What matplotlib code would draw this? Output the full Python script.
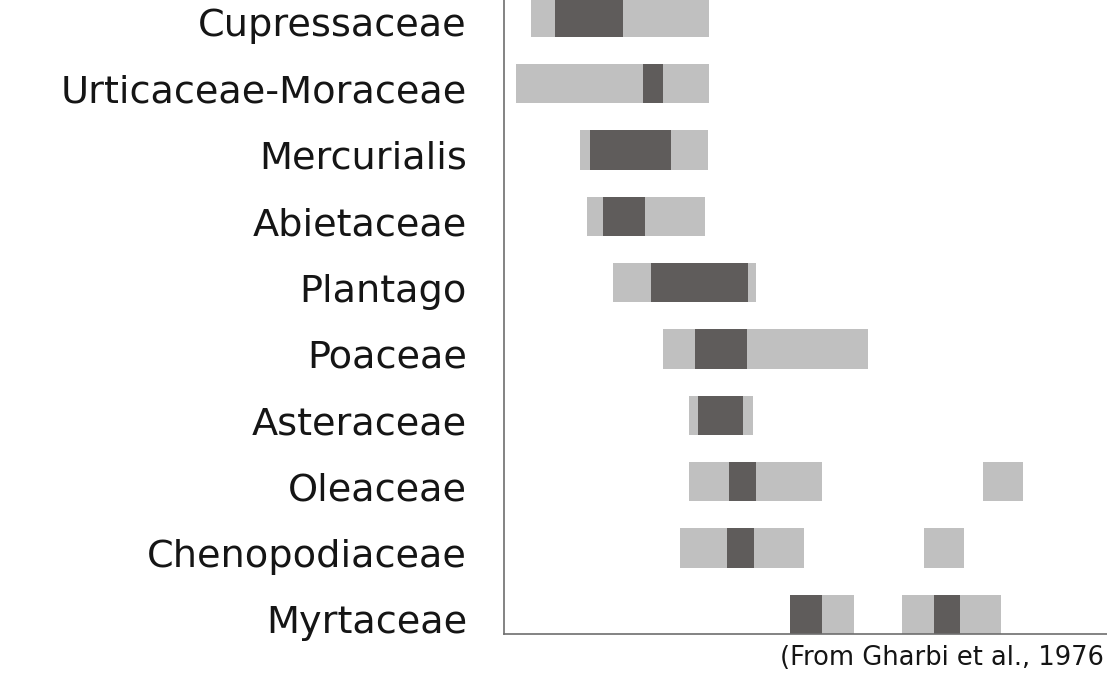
import numpy as np
import matplotlib
matplotlib.use("Agg")
import matplotlib.pyplot as plt
from matplotlib.transforms import ScaledTranslation


# --- Pollen calendar data (x in months from start of year) ---
taxa = ["Cupressaceae", "Urticaceae-Moraceae", "Mercurialis", "Abietaceae",
        "Plantago", "Poaceae", "Asteraceae", "Oleaceae", "Chenopodiaceae",
        "Myrtaceae"]

# light grey = pollen present, dark grey = main pollen season
# each entry: list of (start, end) per taxon
present = [
    [(0.52, 4.08)],
    [(0.23, 4.08)],
    [(1.50, 4.05)],
    [(1.64, 3.99)],
    [(2.17, 5.00)],
    [(3.16, 7.25)],
    [(3.68, 4.94)],
    [(3.68, 6.32), (9.53, 10.33)],
    [(3.50, 5.96), (8.36, 9.16)],
    [(5.68, 6.97), (7.91, 9.89)],
]
peak = [
    [(1.01, 2.37)],
    [(2.75, 3.16)],
    [(1.70, 3.32)],
    [(1.97, 2.79)],
    [(2.92, 4.86)],
    [(3.80, 4.84)],
    [(3.85, 4.76)],
    [(4.47, 5.01)],
    [(4.43, 4.97)],
    [(5.68, 6.33), (8.56, 9.07)],
]

source = "(From Gharbi et al., 1976"

light = "#c0c0c0"
dark = "#5f5c5b"
bar_h = 0.593

fig = plt.figure(figsize=(11.07, 6.75), dpi=100)
ax = fig.add_axes([0.4557, 0.0607, 0.5443, 0.9393])

def draw(spans, color):
    for i, segs in enumerate(spans):
        starts = np.array([s for s, e in segs])
        ends = np.array([e for s, e in segs])
        ax.barh(np.full(len(segs), i), ends - starts, left=starts,
                height=bar_h, color=color, linewidth=0)

draw(present, light)
draw(peak, dark)

ax.set_xlim(0, 12)
ax.set_ylim(len(taxa) - 1 + bar_h / 2, -0.26)

ax.set_yticks(range(len(taxa)))
ax.set_yticklabels(taxa, fontsize=27.5, color="#151515")
ax.tick_params(axis="y", length=0, pad=27)
ax.set_xticks([])
for lbl in ax.get_yticklabels():
    lbl.set_transform(lbl.get_transform() + ScaledTranslation(0, -0.05, fig.dpi_scale_trans))

for side in ["top", "right"]:
    ax.spines[side].set_visible(False)
for side in ["left", "bottom"]:
    ax.spines[side].set_color("#6e6e6e")
    ax.spines[side].set_linewidth(1.2)

fig.text(1104 / 1107, 1 - 665 / 675, source, fontsize=18.5, color="#151515",
         ha="right", va="baseline")

fig.savefig("out.png", dpi=100)
